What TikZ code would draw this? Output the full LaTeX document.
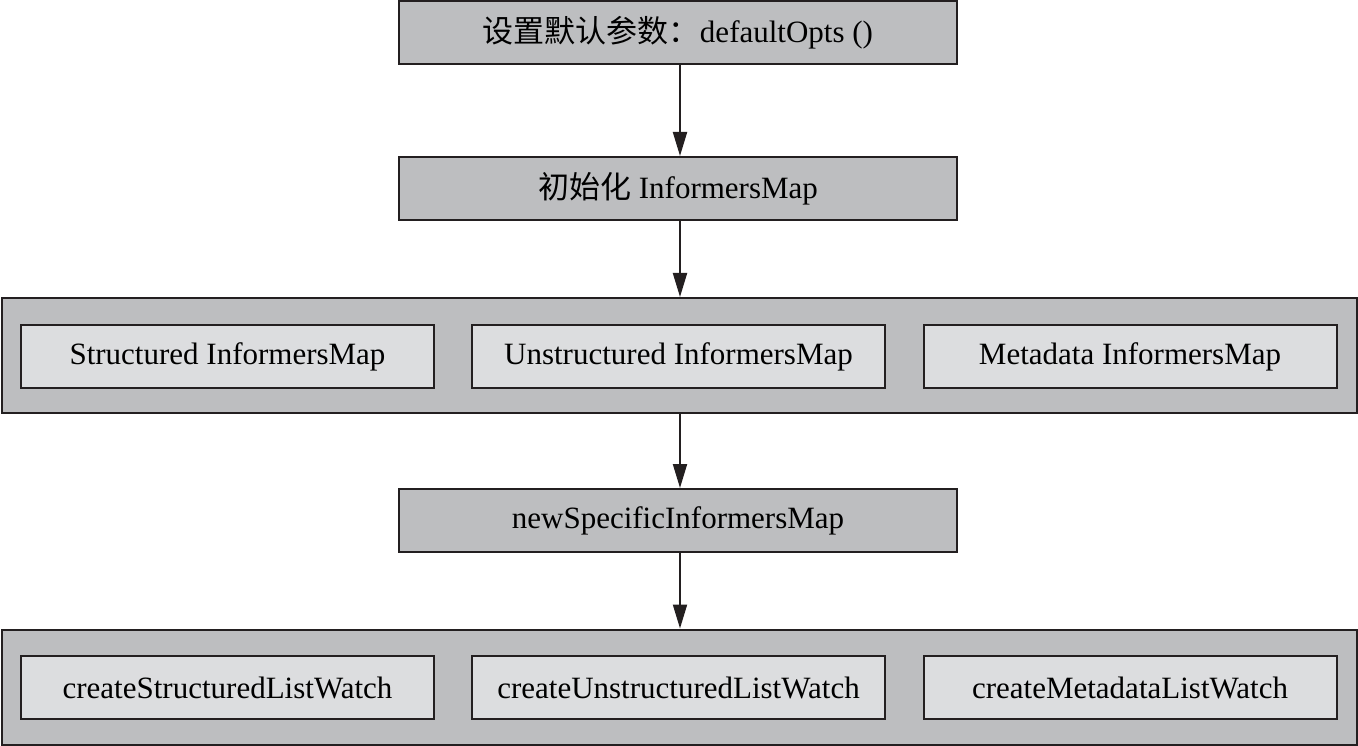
\documentclass[tikz,border=0pt]{standalone}
\usepackage{fontspec}
\setmainfont{Liberation Serif}
\newfontfamily\cjk{Noto Sans CJK SC}
\usetikzlibrary{arrows.meta}
\definecolor{boxgray}{HTML}{BDBEC0}
\definecolor{innergray}{HTML}{DCDDDF}
\definecolor{linec}{HTML}{231F20}
\begin{document}
\begin{tikzpicture}[x=1pt,y=-1pt,
  mainbox/.style={draw=linec,line width=2pt,fill=boxgray,minimum width=558pt,minimum height=63pt,inner sep=0pt,font=\fontsize{31}{34}\selectfont},
  outerbox/.style={draw=linec,line width=2pt,fill=boxgray,minimum width=1355pt,minimum height=115pt,inner sep=0pt},
  innerbox/.style={draw=linec,line width=2pt,fill=innergray,minimum width=413pt,minimum height=63pt,inner sep=0pt,font=\fontsize{31}{34}\selectfont},
  flow/.style={draw=linec,line width=2pt,-{Triangle[length=24pt,width=14pt]}}]
\useasboundingbox (0,0) rectangle (1358,746);
\node[mainbox] (a) at (678,33) {{\cjk 设置默认参数：}defaultOpts ()};
\node[mainbox] (b) at (678,188.5) {{\cjk 初始化} InformersMap};
\node[outerbox] (o1) at (679,355.5) {};
\node[innerbox] (s1) at (227.5,356.5) {Structured InformersMap};
\node[innerbox] (u1) at (678.5,356.5) {Unstructured InformersMap};
\node[innerbox] (m1) at (1130,356.5) {Metadata InformersMap};
\node[mainbox] (c) at (678,520.5) {newSpecificInformersMap};
\node[outerbox] (o2) at (679,687) {};
\node[innerbox] (s2) at (227.5,687.5) {createStructuredListWatch};
\node[innerbox] (u2) at (678.5,687.5) {createUnstructuredListWatch};
\node[innerbox] (m2) at (1130,687.5) {createMetadataListWatch};
\draw[flow] (a.south -| 680,0) -- (b.north -| 680,0);
\draw[flow] (b.south -| 680,0) -- (o1.north -| 680,0);
\draw[flow] (o1.south -| 680,0) -- (c.north -| 680,0);
\draw[flow] (c.south -| 680,0) -- (o2.north -| 680,0);
\end{tikzpicture}
\end{document}
